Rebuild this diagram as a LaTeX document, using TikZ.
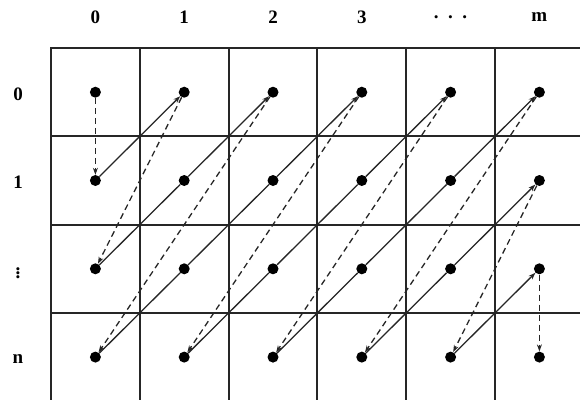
\documentclass[tikz,border=0pt]{standalone}
\usepackage{fontspec}
\setmainfont{Liberation Serif}
\usetikzlibrary{arrows.meta}

\tikzset{
  dot/.style={circle, fill=black, inner sep=0pt, minimum size=11pt},
  walk/.style={-{Stealth[length=7pt,width=5pt]}, line width=1.3pt, black!85},
  jump/.style={walk, dash pattern=on 6pt off 4pt},
  lbl/.style={font=\fontsize{19}{21}\selectfont\bfseries},
  gridline/.style={line width=2pt, black!85},
}

\begin{document}
\begin{tikzpicture}[x=1pt,y=-1pt]
  \useasboundingbox (0,0) rectangle (580,399);
  % grid, cut off at the right and bottom edges
  \begin{scope}
    \clip (0,0) rectangle (580,399);
    \foreach \i in {0,...,6}
      \draw[gridline] ({51+88.8*\i},48) -- ({51+88.8*\i},410);
    \foreach \j in {0,...,4}
      \draw[gridline] (50,{48+88.3*\j}) -- (590,{48+88.3*\j});
  \end{scope}
  % headers
  \foreach \t [count=\c from 0] in {0,1,2,3,{.\ \ .\ \ .},m}
    \node[lbl] (h\c) at ({95.4+88.8*\c},17) {\t};
  \foreach \t [count=\r from 0] in {0,1,\vdots,n}
    \node[lbl] (v\r) at (18,{94+88.3*\r}) {\t};
  % dots
  \foreach \r in {0,...,3}
    \foreach \c in {0,...,5}
      \node[dot] (d\r\c) at ({95.4+88.8*\c},{92.2+88.3*\r}) {};
  % diagonal walk
  \draw[jump] (d00) -- (d10);
  \draw[walk] (d10) -- (d01);
  \draw[jump] (d01) -- (d20);
  \draw[walk] (d20) -- (d11) -- (d02);
  \draw[jump] (d02) -- (d30);
  \draw[walk] (d30) -- (d21) -- (d12) -- (d03);
  \draw[jump] (d03) -- (d31);
  \draw[walk] (d31) -- (d22) -- (d13) -- (d04);
  \draw[jump] (d04) -- (d32);
  \draw[walk] (d32) -- (d23) -- (d14) -- (d05);
  \draw[jump] (d05) -- (d33);
  \draw[walk] (d33) -- (d24) -- (d15);
  \draw[jump] (d15) -- (d34);
  \draw[walk] (d34) -- (d25);
  \draw[jump] (d25) -- (d35);
\end{tikzpicture}
\end{document}
